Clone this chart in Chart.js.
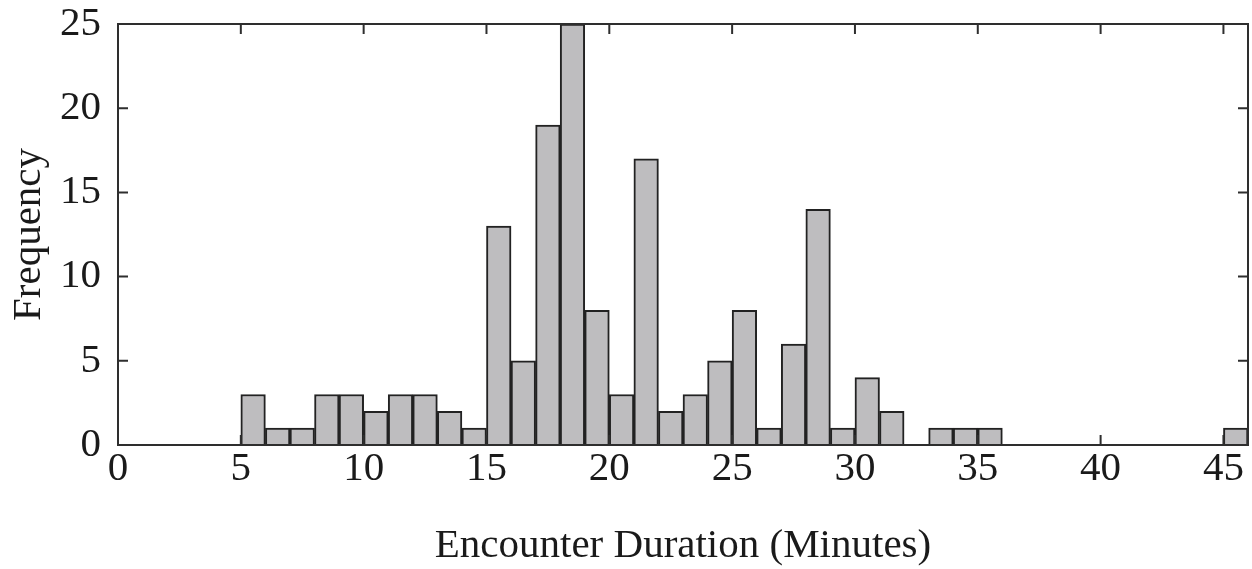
<!DOCTYPE html>
<html>
<head>
<meta charset="utf-8">
<script src="https://cdn.jsdelivr.net/npm/chart.js@4"></script>
<style>
  html, body { margin: 0; padding: 0; background: #fff; }
  #wrap { width: 1252px; height: 569px; }
</style>
</head>
<body>
<div id="wrap"><canvas id="hist" width="1252" height="569"></canvas></div>
<script>
// Histogram of encounter durations, 1-minute bins starting at these edges
const binStarts = [0, 1, 2, 3, 4, 5, 6, 7, 8, 9, 10, 11, 12, 13, 14, 15, 16, 17, 18, 19,
  20, 21, 22, 23, 24, 25, 26, 27, 28, 29, 30, 31, 32, 33, 34, 35, 36, 37, 38, 39,
  40, 41, 42, 43, 44, 45];
const counts = [0, 0, 0, 0, 0, 3, 1, 1, 3, 3, 2, 3, 3, 2, 1, 13, 5, 19, 25, 8,
  3, 17, 2, 3, 5, 8, 1, 6, 14, 1, 4, 2, 0, 1, 1, 1, 0, 0, 0, 0,
  0, 0, 0, 0, 0, 1];
const xTitle = "Encounter Duration (Minutes)";
const yTitle = "Frequency";

const FONT = "'Liberation Serif', 'Times New Roman', serif";
const INK = "#2e2e2e";
const SIZE = 41;

// Draws the box round the plot and the inward tick marks on all four sides
const frameTicks = {
  id: "frameTicks",
  afterDraw(chart) {
    const { ctx, chartArea: a, scales } = chart;
    const len = 10;
    ctx.save();
    ctx.strokeStyle = INK;
    ctx.lineWidth = 2;
    ctx.strokeRect(a.left, a.top, a.right - a.left, a.bottom - a.top);
    ctx.beginPath();
    scales.x.ticks.forEach(t => {
      const px = scales.x.getPixelForValue(t.value);
      ctx.moveTo(px, a.bottom); ctx.lineTo(px, a.bottom - len);
      ctx.moveTo(px, a.top); ctx.lineTo(px, a.top + len);
    });
    scales.y.ticks.forEach(t => {
      const py = scales.y.getPixelForValue(t.value);
      ctx.moveTo(a.left, py); ctx.lineTo(a.left + len, py);
      ctx.moveTo(a.right, py); ctx.lineTo(a.right - len, py);
    });
    ctx.stroke();
    ctx.restore();
  }
};

// labels may hang over the plot edges, like the original figure
function noOverhang(scale) {
  scale.paddingTop = 0;
  scale.paddingBottom = 0;
  scale.paddingLeft = 0;
  scale.paddingRight = 0;
}

const ctx = document.getElementById("hist").getContext("2d");
new Chart(ctx, {
  type: "bar",
  data: {
    datasets: [{
      data: binStarts.map((s, i) => ({ x: s + 0.5, y: counts[i] })),
      backgroundColor: "rgb(190,189,191)",
      borderColor: "#222222",
      borderWidth: 2,
      borderSkipped: "start",
      barPercentage: 1,
      categoryPercentage: 1
    }]
  },
  options: {
    responsive: false,
    animation: false,
    events: [],
    layout: { padding: { top: 24, right: 4, bottom: 0, left: 0 } },
    plugins: { legend: { display: false }, tooltip: { enabled: false } },
    scales: {
      x: {
        type: "linear",
        min: 0,
        max: 46,
        offset: false,
        grid: { display: false, drawTicks: false },
        border: { display: false },
        ticks: {
          stepSize: 5,
          includeBounds: false,
          maxRotation: 0,
          padding: 0,
          color: "#1a1a1a",
          font: { family: FONT, size: SIZE }
        },
        title: {
          display: true,
          text: xTitle,
          color: "#1a1a1a",
          font: { family: FONT, size: SIZE },
          padding: { top: 0, bottom: -2 }
        },
        afterFit(scale) { scale.height = 124; noOverhang(scale); }
      },
      y: {
        min: 0,
        max: 25,
        grid: { display: false, drawTicks: false },
        border: { display: false },
        ticks: {
          stepSize: 5,
          padding: 17,
          color: "#1a1a1a",
          font: { family: FONT, size: SIZE }
        },
        title: {
          display: true,
          text: yTitle,
          color: "#1a1a1a",
          font: { family: FONT, size: SIZE },
          padding: { top: 5, bottom: 0 }
        },
        afterFit(scale) { scale.width = 118; noOverhang(scale); }
      }
    }
  },
  plugins: [frameTicks]
});
</script>
</body>
</html>
